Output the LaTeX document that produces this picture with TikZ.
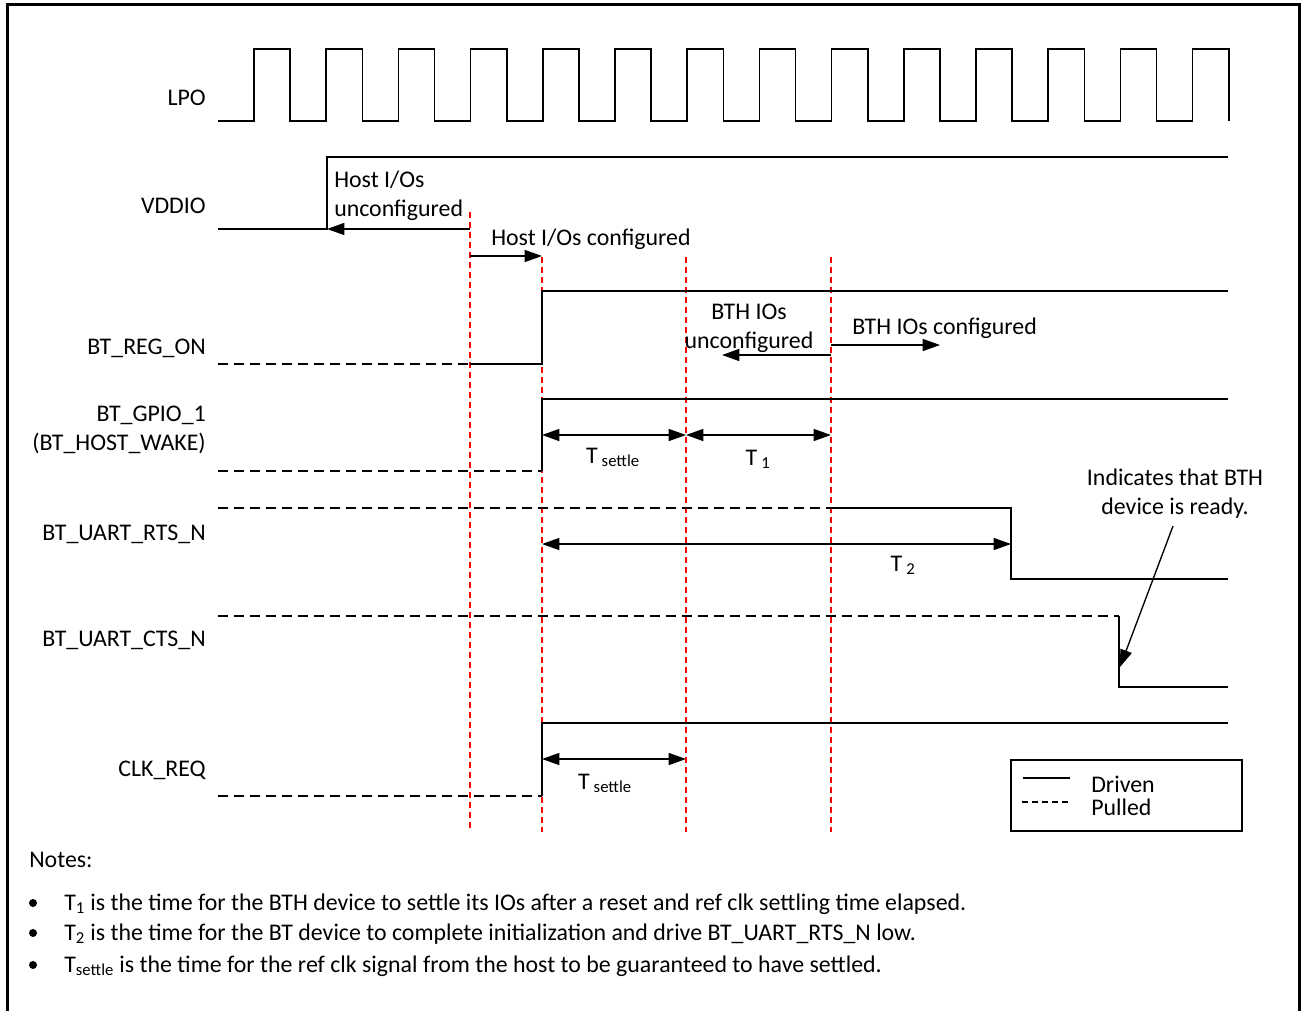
\documentclass[tikz,border=0pt]{standalone}
\usepackage{fontspec}
\setmainfont{Carlito}
\usetikzlibrary{arrows.meta}
\tikzset{
	sig/.style={line width=1.5pt},
	pulled/.style={line width=1.5pt, dash pattern=on 7.5pt off 4.5pt},
	marker/.style={red, line width=1pt, dash pattern=on 4.5pt off 3pt},
	dim/.style={line width=1.1pt, -{Triangle[length=13pt,width=9pt]}},
	ddim/.style={line width=1.1pt, {Triangle[length=13pt,width=9pt]}-{Triangle[length=13pt,width=9pt]}},
	lbl/.style={anchor=base east, inner sep=0pt},
	txt/.style={anchor=base west, inner sep=0pt}
}

\begin{document}
\begin{tikzpicture}[x=0.75pt, y=-0.75pt, font=\fontsize{17.9}{21.75}\selectfont]
		%%%%% START %%%%%
		\useasboundingbox (0,0) rectangle (1301,1010);
		\draw[line width=2.25pt] (7,1014) |- (1299,4) -- (1299,1014);
		
		% time markers
		\draw[marker] (470,212) -- (470,832);
		\draw[marker] (542,257) -- (542,832);
		\draw[marker] (686,257) -- (686,832);
		\draw[marker] (831,257) -- (831,832);
		
		% signal names
		\node[lbl] (lpo) at (206,105) {LPO};
		\node[lbl] (vddio) at (206,213) {VDDIO};
		\node[lbl] (regon) at (206,354) {BT\_REG\_ON};
		\node[lbl] (gpio) at (206,421) {BT\_GPIO\_1};
		\node[lbl] (hostwake) at (206,450) {(BT\_HOST\_WAKE)};
		\node[lbl] (rts) at (206,540) {BT\_UART\_RTS\_N};
		\node[lbl] (cts) at (206,646) {BT\_UART\_CTS\_N};
		\node[lbl] (clkreq) at (206,776) {CLK\_REQ};
		
		% LPO clock
		\draw[line width=1.2pt] (218,121) -| (254,49) -| (290.1,121) -| (326.2,49) -| (362.3,121)
			-| (398.4,49) -| (434.5,121) -| (470.6,49) -| (506.7,121) -| (542.8,49) -| (578.9,121)
			-| (615,49) -| (651.1,121) -| (687.2,49) -| (723.3,121) -| (759.4,49) -| (795.5,121)
			-| (831.6,49) -| (867.7,121) -| (903.8,49) -| (939.9,121) -| (976,49) -| (1012.1,121)
			-| (1048.2,49) -| (1084.3,121) -| (1120.4,49) -| (1156.5,121) -| (1192.6,49) -| (1228.7,121);
		
		% VDDIO
		\draw[sig] (218,229) -| (327,157) -- (1228,157);
		\node[txt, align=left] (hostunc) at (334,216) {Host I/Os\\unconfigured};
		\draw[dim] (470,229) -- (327,229);
		\node[txt] (hostcfg) at (491,245) {Host I/Os configured};
		\draw[dim] (470,256) -- (542,256);
		
		% BT_REG_ON
		\draw[pulled] (218,364) -- (470,364);
		\draw[sig] (470,364) -| (542,291) -- (1228,291);
		\node[inner sep=0pt, anchor=base, align=center] (bthunc) at (749,348) {BTH IOs\\unconfigured};
		\draw[dim] (831,355) -- (722,355);
		\node[txt] (bthcfg) at (852,334) {BTH IOs configured};
		\draw[dim] (831,345) -- (940,345);
		
		% BT_GPIO_1
		\draw[pulled] (218,471) -- (542,471);
		\draw[sig] (542,471) -- (542,399) -- (1228,399);
		\draw[ddim] (542,435) -- (686,435);
		\draw[ddim] (686,435) -- (831,435);
		\node[inner sep=0pt, anchor=base] (tset) at (613,463) {T\,\textsubscript{settle}};
		\node[inner sep=0pt, anchor=base] (tone) at (758,465) {T\,\textsubscript{1}};
		
		% BT_UART_RTS_N
		\draw[pulled] (218,508) -- (831,508);
		\draw[sig] (831,508) -| (1011,579) -- (1228,579);
		\draw[ddim] (542,544) -- (1011,544);
		\node[inner sep=0pt, anchor=base] (ttwo) at (903,571) {T\,\textsubscript{2}};
		
		% BT_UART_CTS_N
		\draw[pulled] (218,616) -- (1119,616);
		\draw[sig] (1119,616) -- (1119,687) -- (1228,687);
		\node[inner sep=0pt, anchor=base, align=center] (ready) at (1175,514) {Indicates that BTH\\device is ready.};
		\coordinate (ctsfall) at (1120,667);
		\draw[line width=1pt, -{Triangle[length=13pt,width=9pt]}] (1173,526) -- (ctsfall);
		
		% CLK_REQ
		\draw[pulled] (218,796) -- (542,796);
		\draw[sig] (542,796) -- (542,723) -- (1228,723);
		\draw[ddim] (542,759) -- (686,759);
		\node[inner sep=0pt, anchor=base] (tsetclk) at (605,789) {T\,\textsubscript{settle}};
		
		% legend
		\draw[line width=1.1pt] (1011,760) rectangle (1242,831);
		\draw[line width=1.1pt] (1023,778) -- (1070,778);
		\draw[line width=1.1pt, dash pattern=on 4.5pt off 3pt] (1022,802) -- (1070,802);
		\node[txt] (driven) at (1091,792) {Driven};
		\node[txt] (pulled) at (1091,815) {Pulled};
		
		% notes
		\node[txt] (notes) at (29,867) {Notes:};
		\fill (33,903) circle (4);
		\fill (33,933) circle (4);
		\fill (33,965) circle (4);
		\node[txt] (noteone) at (64,910) {T\textsubscript{1} is the time for the BTH device to settle its IOs after a reset and ref clk settling time elapsed.};
		\node[txt] (notetwo) at (64,940) {T\textsubscript{2} is the time for the BT device to complete initialization and drive BT\_UART\_RTS\_N low.};
		\node[txt] (notethree) at (64,972) {T\textsubscript{settle} is the time for the ref clk signal from the host to be guaranteed to have settled.};
		
		%%%%% END %%%%%
\end{tikzpicture}
\end{document}
